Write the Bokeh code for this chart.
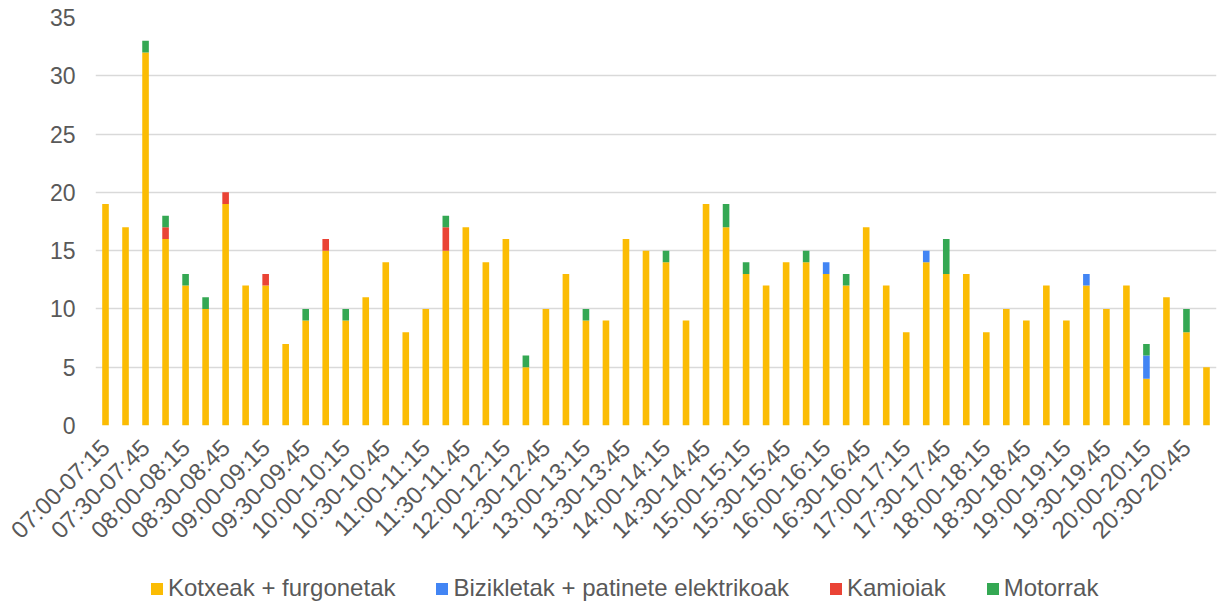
import math
from bokeh.plotting import figure
from bokeh.layouts import column
from bokeh.models import ColumnDataSource, FixedTicker, Range1d, Legend, LegendItem
from bokeh.embed import file_html
from bokeh.resources import INLINE

slots = [
    "07:00-07:15", "07:15-07:30", "07:30-07:45", "07:45-08:00",
    "08:00-08:15", "08:15-08:30", "08:30-08:45", "08:45-09:00",
    "09:00-09:15", "09:15-09:30", "09:30-09:45", "09:45-10:00",
    "10:00-10:15", "10:15-10:30", "10:30-10:45", "10:45-11:00",
    "11:00-11:15", "11:15-11:30", "11:30-11:45", "11:45-12:00",
    "12:00-12:15", "12:15-12:30", "12:30-12:45", "12:45-13:00",
    "13:00-13:15", "13:15-13:30", "13:30-13:45", "13:45-14:00",
    "14:00-14:15", "14:15-14:30", "14:30-14:45", "14:45-15:00",
    "15:00-15:15", "15:15-15:30", "15:30-15:45", "15:45-16:00",
    "16:00-16:15", "16:15-16:30", "16:30-16:45", "16:45-17:00",
    "17:00-17:15", "17:15-17:30", "17:30-17:45", "17:45-18:00",
    "18:00-18:15", "18:15-18:30", "18:30-18:45", "18:45-19:00",
    "19:00-19:15", "19:15-19:30", "19:30-19:45", "19:45-20:00",
    "20:00-20:15", "20:15-20:30", "20:30-20:45", "20:45-21:00",
]

kotxeak = [19, 17, 32, 16, 12, 10, 19, 12, 12, 7, 9, 15, 9, 11, 14, 8,
           10, 15, 17, 14, 16, 5, 10, 13, 9, 9, 16, 15, 14, 9, 19, 17,
           13, 12, 14, 14, 13, 12, 17, 12, 8, 14, 13, 13, 8, 10, 9, 12,
           9, 12, 10, 12, 4, 11, 8, 5]
bizikletak = [0, 0, 0, 0, 0, 0, 0, 0, 0, 0, 0, 0, 0, 0, 0, 0,
              0, 0, 0, 0, 0, 0, 0, 0, 0, 0, 0, 0, 0, 0, 0, 0,
              0, 0, 0, 0, 1, 0, 0, 0, 0, 1, 0, 0, 0, 0, 0, 0,
              0, 1, 0, 0, 2, 0, 0, 0]
kamioiak = [0, 0, 0, 1, 0, 0, 1, 0, 1, 0, 0, 1, 0, 0, 0, 0,
            0, 2, 0, 0, 0, 0, 0, 0, 0, 0, 0, 0, 0, 0, 0, 0,
            0, 0, 0, 0, 0, 0, 0, 0, 0, 0, 0, 0, 0, 0, 0, 0,
            0, 0, 0, 0, 0, 0, 0, 0]
motorrak = [0, 0, 1, 1, 1, 1, 0, 0, 0, 0, 1, 0, 1, 0, 0, 0,
            0, 1, 0, 0, 0, 1, 0, 0, 1, 0, 0, 0, 1, 0, 0, 2,
            1, 0, 0, 1, 0, 1, 0, 0, 0, 0, 3, 0, 0, 0, 0, 0,
            0, 0, 0, 0, 1, 0, 2, 0]

series_names = ["Kotxeak + furgonetak", "Bizikletak + patinete elektrikoak",
                "Kamioiak", "Motorrak"]
series_colors = ["#FBBC04", "#4285F4", "#EA4335", "#34A853"]
y_ticks = [0, 5, 10, 15, 20, 25, 30, 35]

xs = list(range(len(slots)))
src = ColumnDataSource(dict(x=xs, k=kotxeak, b=bizikletak, ka=kamioiak, m=motorrak))

FONT = "Liberation Sans"
TXT = "#595959"

p = figure(width=1224, height=560, output_backend="svg", toolbar_location=None,
           x_range=Range1d(-0.5, len(slots) - 0.5), y_range=Range1d(0, 35),
           min_border_left=95, min_border_right=8, min_border_top=17,
           min_border_bottom=135)
p.outline_line_color = None
p.background_fill_color = "white"
p.border_fill_color = "white"

p.vbar_stack(["k", "b", "ka", "m"], x="x", width=0.33, source=src,
             color=series_colors, line_color=None)

# y axis
p.yaxis.ticker = FixedTicker(ticks=y_ticks)
p.yaxis.axis_line_color = None
p.yaxis.major_tick_line_color = None
p.yaxis.minor_tick_line_color = None
p.yaxis.major_tick_out = 0
p.yaxis.major_label_standoff = 20
p.yaxis.major_label_text_font = FONT
p.yaxis.major_label_text_font_size = "23px"
p.yaxis.major_label_text_color = TXT
p.ygrid.ticker = FixedTicker(ticks=y_ticks)
p.ygrid.grid_line_color = "#D9D9D9"
p.ygrid.grid_line_width = 1.5

# x axis
p.xaxis.ticker = FixedTicker(ticks=xs[::2])
p.xaxis.major_label_overrides = {i: slots[i] for i in xs[::2]}
p.xaxis.major_label_orientation = math.pi / 4
p.xaxis.axis_line_color = None
p.xaxis.major_tick_line_color = None
p.xaxis.minor_tick_line_color = None
p.xaxis.major_tick_out = 0
p.xaxis.major_label_standoff = 18
p.xaxis.major_label_text_font = FONT
p.xaxis.major_label_text_font_size = "24px"
p.xaxis.major_label_text_color = TXT
p.xgrid.grid_line_color = None

# legend strip
p2 = figure(width=1224, height=46, output_backend="svg", toolbar_location=None,
            x_range=Range1d(0, 1), y_range=Range1d(0, 1),
            x_axis_location=None, y_axis_location=None,
            min_border=0, min_border_left=0, min_border_right=0,
            min_border_top=0, min_border_bottom=0)
p2.outline_line_color = None
p2.border_fill_color = "white"
p2.background_fill_color = "white"
p2.xgrid.grid_line_color = None
p2.ygrid.grid_line_color = None
items = []
for name, col in zip(series_names, series_colors):
    r = p2.vbar(x=[0.5], top=[0], bottom=[0], width=0.1, fill_color=col,
                line_color=None)
    items.append(LegendItem(label=name, renderers=[r]))
lg = Legend(items=items, orientation="horizontal", location=(54, 4),
            padding=0, margin=0, spacing=39, glyph_width=15, glyph_height=15,
            label_standoff=4, label_text_font=FONT, label_text_font_size="24px",
            label_text_color=TXT, border_line_color=None, background_fill_alpha=0)
p2.add_layout(lg)

layout = column(p, p2, spacing=0)
open("out.html", "w").write(file_html(layout, INLINE))
